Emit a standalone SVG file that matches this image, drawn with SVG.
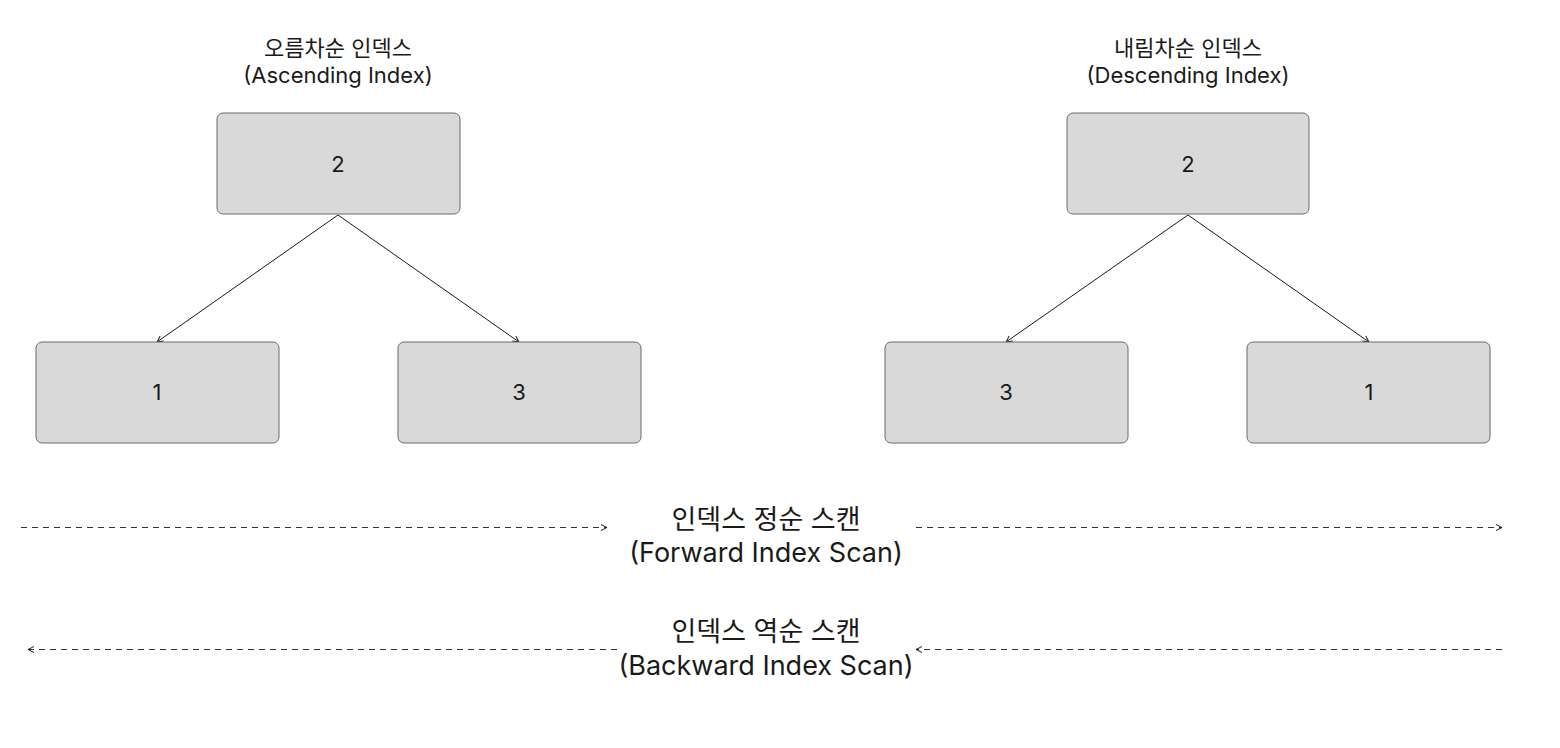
<svg xmlns="http://www.w3.org/2000/svg" width="1560" height="748" viewBox="0 0 1560 748">
<style>
.node rect{fill:#d9d9d9;stroke:#6b6b6b;stroke-width:1}
.t{font-family:Inter,"Noto Sans CJK KR","Liberation Sans",sans-serif;fill:#1a1a1a;text-anchor:middle}
.num{font-size:22px}
.title{font-size:22px}
.scan{font-size:27px}
.edge{stroke:#1a1a1a;stroke-width:1;fill:none}
.dash{stroke:#333;stroke-width:1;fill:none;stroke-dasharray:6 5}
</style>
<defs>
<marker id="arr" viewBox="0 0 8 8" refX="7" refY="4" markerWidth="8" markerHeight="8" markerUnits="userSpaceOnUse" orient="auto-start-reverse">
<path d="M1,1 L7,4 L1,7" fill="none" stroke="#1a1a1a" stroke-width="1"/>
</marker>
</defs>
<rect width="1560" height="748" fill="#fff"/>
<g id="titles">
<text class="t title" x="338" y="56">오름차순 인덱스</text>
<text class="t title" x="338" y="83">(Ascending Index)</text>
<text class="t title" x="1188" y="56">내림차순 인덱스</text>
<text class="t title" x="1188" y="83">(Descending Index)</text>
</g>
<g id="connectors">
<line class="edge" x1="338" y1="215" x2="157" y2="342" marker-end="url(#arr)"/>
<line class="edge" x1="338" y1="215" x2="519" y2="342" marker-end="url(#arr)"/>
<line class="edge" x1="1188" y1="215" x2="1006" y2="342" marker-end="url(#arr)"/>
<line class="edge" x1="1188" y1="215" x2="1369" y2="342" marker-end="url(#arr)"/>
<line class="dash" x1="21" y1="527.5" x2="607" y2="527.5" marker-end="url(#arr)"/>
<line class="dash" x1="916" y1="527.5" x2="1502" y2="527.5" marker-end="url(#arr)"/>
<line class="dash" x1="617" y1="649.5" x2="28" y2="649.5" marker-end="url(#arr)"/>
<line class="dash" x1="1502" y1="649.5" x2="916" y2="649.5" marker-end="url(#arr)"/>
</g>
<g id="asc-root" class="node"><rect x="217" y="113" width="243" height="101" rx="6"/><text class="t num" x="338" y="172">2</text></g>
<g id="asc-left" class="node"><rect x="36" y="342" width="243" height="101" rx="6"/><text class="t num" x="157" y="400">1</text></g>
<g id="asc-right" class="node"><rect x="398" y="342" width="243" height="101" rx="6"/><text class="t num" x="519" y="400">3</text></g>
<g id="desc-root" class="node"><rect x="1067" y="113" width="242" height="101" rx="6"/><text class="t num" x="1188" y="172">2</text></g>
<g id="desc-left" class="node"><rect x="885" y="342" width="243" height="101" rx="6"/><text class="t num" x="1006" y="400">3</text></g>
<g id="desc-right" class="node"><rect x="1247" y="342" width="243" height="101" rx="6"/><text class="t num" x="1369" y="400">1</text></g>
<g id="scan-labels">
<text class="t scan" x="766" y="529">인덱스 정순 스캔</text>
<text class="t scan" x="766" y="562">(Forward Index Scan)</text>
<text class="t scan" x="766" y="641">인덱스 역순 스캔</text>
<text class="t scan" x="766" y="675">(Backward Index Scan)</text>
</g>
</svg>
